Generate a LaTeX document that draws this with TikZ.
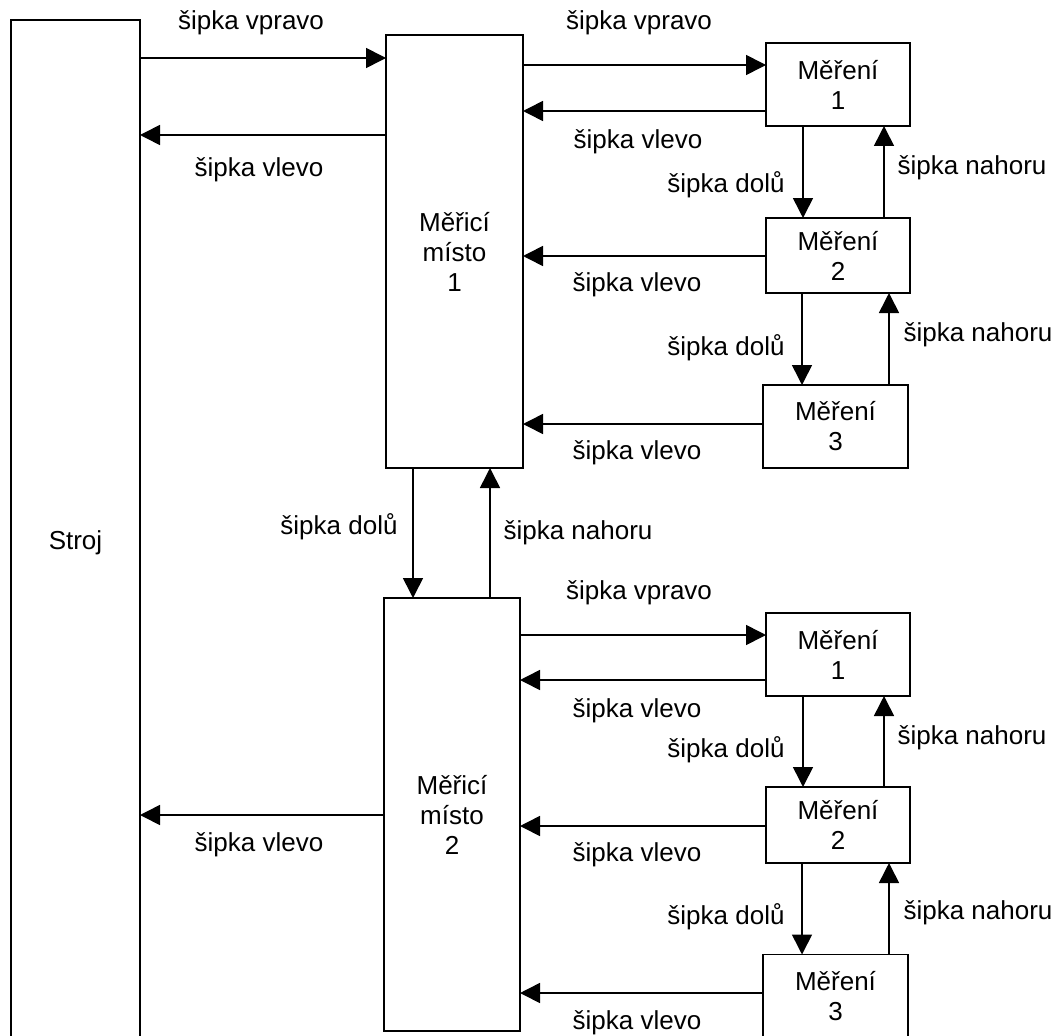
\documentclass[tikz,border=0pt]{standalone}
\usepackage{fontspec}
\setmainfont{Liberation Sans}
\usetikzlibrary{arrows.meta}
\begin{document}
\begin{tikzpicture}[x=1pt,y=-1pt,
  every node/.style={font=\fontsize{26}{30}\selectfont},
  box/.style={draw, line width=1.6pt, inner sep=0pt, outer sep=0pt, align=center},
  arr/.style={line width=1.6pt, -{Triangle[length=20pt,width=20pt]}},
  lbl/.style={inner sep=0pt, anchor=center}]
\clip (0,0) rectangle (1059,1035);
\fill[white] (0,0) rectangle (1059,1035);

% boxes
\node[box, minimum width=129pt, minimum height=1046pt] (stroj) at (75.5,543) {Stroj};
\node[box, minimum width=137pt, minimum height=433pt] (mm1) at (454.5,251.5) {Měřicí\\místo\\1};
\node[box, minimum width=136pt, minimum height=433pt] (mm2) at (452,814.5) {Měřicí\\místo\\2};
\node[box, minimum width=144pt, minimum height=83pt] (m1a) at (838,84.5) {Měření\\1};
\node[box, minimum width=144pt, minimum height=75pt] (m2a) at (838,255.5) {Měření\\2};
\node[box, minimum width=145pt, minimum height=83pt] (m3a) at (835.5,426.5) {Měření\\3};
\node[box, minimum width=144pt, minimum height=83pt] (m1b) at (838,654.5) {Měření\\1};
\node[box, minimum width=144pt, minimum height=76pt] (m2b) at (838,825) {Měření\\2};
\node[box, minimum width=145pt, minimum height=83pt] (m3b) at (835.5,996) {Měření\\3};

% Stroj <-> MM1/MM2
\draw[arr] (stroj.east |- 0,58) -- (mm1.west |- 0,58);
\draw[arr] (mm1.west |- 0,135) -- (stroj.east |- 0,135);
\draw[arr] (mm2.west |- 0,815) -- (stroj.east |- 0,815);

% MM1 <-> measurements
\draw[arr] (mm1.east |- 0,65) -- (m1a.west |- 0,65);
\draw[arr] (m1a.west |- 0,111) -- (mm1.east |- 0,111);
\draw[arr] (m2a.west |- 0,256) -- (mm1.east |- 0,256);
\draw[arr] (m3a.west |- 0,424) -- (mm1.east |- 0,424);
\draw[arr] (m1a.south -| 803,0) -- (m2a.north -| 803,0);
\draw[arr] (m2a.north -| 884,0) -- (m1a.south -| 884,0);
\draw[arr] (m2a.south -| 802,0) -- (m3a.north -| 802,0);
\draw[arr] (m3a.north -| 889,0) -- (m2a.south -| 889,0);

% MM1 <-> MM2
\draw[arr] (mm1.south -| 413,0) -- (mm2.north -| 413,0);
\draw[arr] (mm2.north -| 490,0) -- (mm1.south -| 490,0);

% MM2 <-> measurements
\draw[arr] (mm2.east |- 0,635) -- (m1b.west |- 0,635);
\draw[arr] (m1b.west |- 0,680) -- (mm2.east |- 0,680);
\draw[arr] (m2b.west |- 0,826) -- (mm2.east |- 0,826);
\draw[arr] (m3b.west |- 0,993) -- (mm2.east |- 0,993);
\draw[arr] (m1b.south -| 803,0) -- (m2b.north -| 803,0);
\draw[arr] (m2b.north -| 884,0) -- (m1b.south -| 884,0);
\draw[arr] (m2b.south -| 802,0) -- (m3b.north -| 802,0);
\draw[arr] (m3b.north -| 889,0) -- (m2b.south -| 889,0);

% labels
\node[lbl] (l1) at (251,23) {šipka vpravo};
\node[lbl] (l2) at (259,170) {šipka vlevo};
\node[lbl] (l3) at (639,23) {šipka vpravo};
\node[lbl] (l4) at (638,142) {šipka vlevo};
\node[lbl] (l5) at (726,185) {šipka dolů};
\node[lbl] (l6) at (972,168) {šipka nahoru};
\node[lbl] (l7) at (637,285) {šipka vlevo};
\node[lbl] (l8) at (726,348) {šipka dolů};
\node[lbl] (l9) at (978,335) {šipka nahoru};
\node[lbl] (l10) at (637,453) {šipka vlevo};
\node[lbl] (l11) at (339,527) {šipka dolů};
\node[lbl] (l12) at (578,533) {šipka nahoru};
\node[lbl] (l13) at (639,593) {šipka vpravo};
\node[lbl] (l14) at (637,711) {šipka vlevo};
\node[lbl] (l15) at (726,750) {šipka dolů};
\node[lbl] (l16) at (972,738) {šipka nahoru};
\node[lbl] (l17) at (637,855) {šipka vlevo};
\node[lbl] (l18) at (726,917) {šipka dolů};
\node[lbl] (l19) at (978,913) {šipka nahoru};
\node[lbl] (l20) at (637,1023) {šipka vlevo};
\node[lbl] (l21) at (259,845) {šipka vlevo};
\end{tikzpicture}
\end{document}
